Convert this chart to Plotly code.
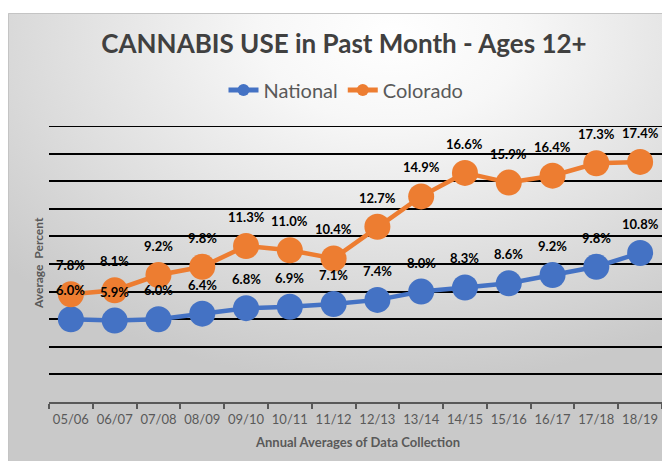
import base64
import plotly.graph_objects as go

categories = ["05/06", "06/07", "07/08", "08/09", "09/10", "10/11", "11/12",
              "12/13", "13/14", "14/15", "15/16", "16/17", "17/18", "18/19"]
national = [6.0, 5.9, 6.0, 6.4, 6.8, 6.9, 7.1, 7.4, 8.0, 8.3, 8.6, 9.2, 9.8, 10.8]
colorado = [7.8, 8.1, 9.2, 9.8, 11.3, 11.0, 10.4, 12.7, 14.9, 16.6, 15.9, 16.4, 17.3, 17.4]
y_max = 20

OFF = 8  # page body margin
W, H = 670 - OFF, 461 - OFF
L, R, T, B = 49 - OFF, 670 - 662, 126 - OFF, 461 - 402
PW, PH = W - L - R, H - T - B

BLUE = "#4472C4"
ORANGE = "#ED7D31"
GRAY = "#595959"
FONT = "Lato"

fig = go.Figure()
fig.add_trace(go.Scatter(x=categories, y=national, name="National", mode="lines+markers",
                         line=dict(color=BLUE, width=4.5),
                         marker=dict(color=BLUE, size=26)))
fig.add_trace(go.Scatter(x=categories, y=colorado, name="Colorado", mode="lines+markers",
                         line=dict(color=ORANGE, width=4.5),
                         marker=dict(color=ORANGE, size=26)))

annotations = []
for series in (national, colorado):
    for c, v in zip(categories, series):
        annotations.append(dict(x=c, y=v, xref="x", yref="y", text=f"{v:.1f}%",
                                showarrow=False, yshift=29,
                                font=dict(family=FONT, size=13, color="#000000", weight="bold")))

# page pixel -> paper coords
px = lambda x: (x - OFF - L) / PW
py = lambda y: (H - B - (y - OFF)) / PH

annotations.append(dict(x=px(357), y=py(442), xref="paper", yref="paper",
                        text="Annual Averages of Data Collection", showarrow=False,
                        xanchor="center", yanchor="middle",
                        font=dict(family=FONT, size=13, color=GRAY, weight="bold")))
annotations.append(dict(x=px(38), y=py(263), xref="paper", yref="paper",
                        text="Average  Percent", showarrow=False, textangle=-90,
                        xanchor="center", yanchor="middle",
                        font=dict(family=FONT, size=12, color=GRAY, weight="bold")))

# background gradient frame (page x=8..670, y=13..461)
fx0, fy0 = 8, 13
fw, fh = 670 - fx0, 461 - fy0
svg = f'''<svg xmlns="http://www.w3.org/2000/svg" width="{fw}" height="{fh}" viewBox="0 0 {fw} {fh}" preserveAspectRatio="none">
<defs><radialGradient id="g" cx="0.58" cy="0.05" r="0.78" gradientUnits="objectBoundingBox">
<stop offset="0" stop-color="#ffffff"/><stop offset="0.25" stop-color="#f7f7f7"/>
<stop offset="1" stop-color="#c9c9c9"/></radialGradient></defs>
<rect x="0" y="0" width="{fw}" height="{fh}" fill="url(#g)"/></svg>'''
src = "data:image/svg+xml;base64," + base64.b64encode(svg.encode()).decode()

fig.add_layout_image(dict(source=src, xref="paper", yref="paper",
                          x=px(fx0), y=py(fy0), sizex=fw / PW, sizey=fh / PH,
                          xanchor="left", yanchor="top", sizing="stretch", layer="below"))
fig.add_shape(type="rect", xref="paper", yref="paper", x0=px(fx0 + 0.5), y0=py(463),
              x1=px(672), y1=py(fy0 + 0.5), line=dict(color="#c4c4c4", width=1), layer="below")
# top gridline at the range edge
fig.add_shape(type="line", xref="paper", yref="y", x0=0, x1=1, y0=y_max, y1=y_max,
              line=dict(color="#000000", width=2), layer="below")

fig.update_layout(
    width=W, height=H,
    margin=dict(l=L, r=R, t=T, b=B, autoexpand=False),
    paper_bgcolor="#ffffff",
    plot_bgcolor="rgba(0,0,0,0)",
    font=dict(family=FONT, color=GRAY),
    title=dict(text="CANNABIS USE in Past Month - Ages 12+", xref="container",
               x=(344 - OFF) / W, xanchor="center", yref="container",
               y=1 - (44 - OFF) / H, yanchor="middle",
               font=dict(family=FONT, size=26, color="#404040", weight="bold")),
    legend=dict(orientation="h", xref="container", x=(346 - OFF) / W, xanchor="center",
                yref="container", y=1 - (90 - OFF) / H, yanchor="middle",
                font=dict(family=FONT, size=20, color=GRAY), bgcolor="rgba(0,0,0,0)",
                itemwidth=30, itemsizing="constant"),
    showlegend=True,
    annotations=annotations,
    xaxis=dict(type="category", range=[-0.5, len(categories) - 0.5], showgrid=False,
               showline=True, linecolor=GRAY, linewidth=2, ticks="outside",
               tickson="boundaries", ticklen=5, tickwidth=1.5, tickcolor=GRAY,
               tickangle=0, automargin=False,
               tickfont=dict(family=FONT, size=13, color=GRAY), ticklabelstandoff=4,
               zeroline=False),
    yaxis=dict(range=[0, y_max], dtick=2, showgrid=True, gridcolor="#000000", gridwidth=2,
               showticklabels=False, zeroline=False, showline=False, ticks="",
               automargin=False),
)

fig.write_html("out.html")
